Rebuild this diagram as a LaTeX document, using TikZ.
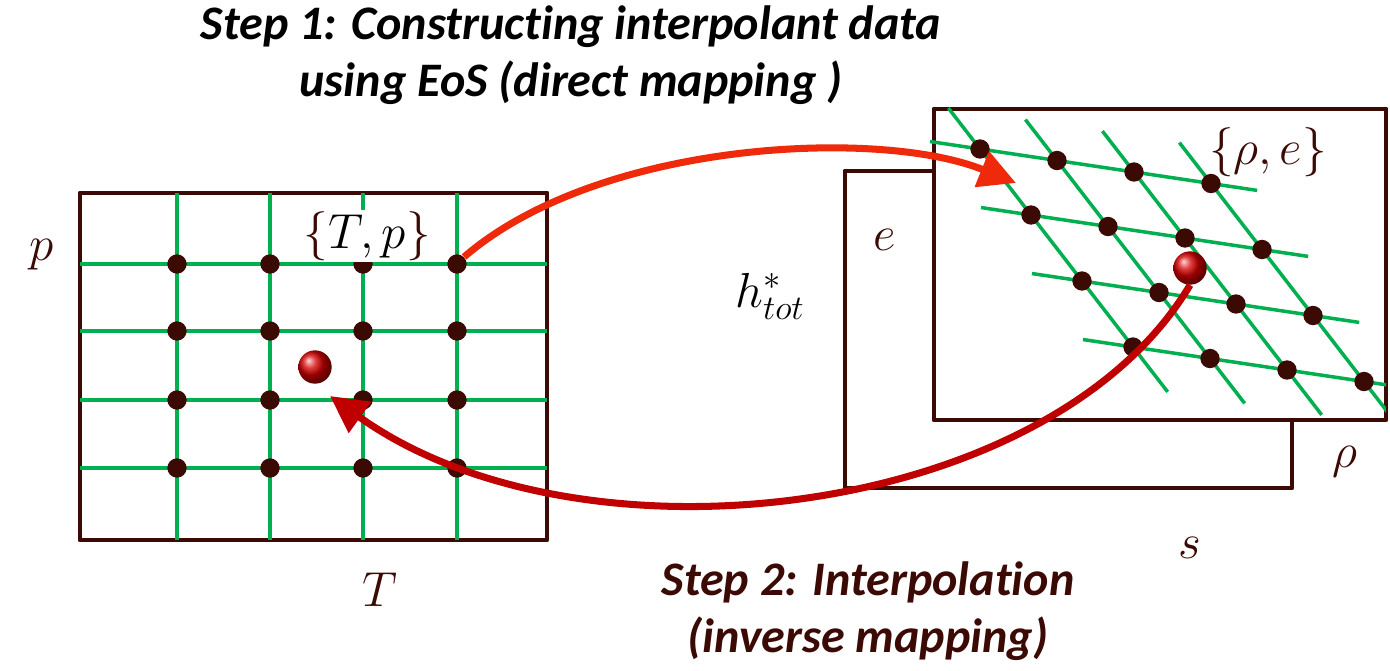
\documentclass[tikz,border=0pt]{standalone}
\usepackage{fix-cm}
\usepackage{fontspec}
\setmainfont[Ligatures=NoCommon]{Carlito}
\usetikzlibrary{arrows.meta}
\definecolor{dbrown}{HTML}{3C0A05}
\definecolor{ggreen}{HTML}{00B050}
\definecolor{tred}{HTML}{EE2A0A}
\definecolor{bred}{HTML}{C00000}
\tikzset{
  frame/.style={draw=dbrown, line width=2.8pt, line join=round},
  gline/.style={draw=ggreen, line width=2pt},
  knot/.style={circle, fill=dbrown, inner sep=0pt, minimum size=11pt},
  target/.style={circle, ball color=red!85!black, inner sep=0pt, minimum size=19pt},
  steptxt/.style={font=\fontsize{27.4}{32.5}\selectfont\bfseries\itshape, align=center},
  lbl/.style={text=dbrown, font=\fontsize{28}{32}\selectfont, inner sep=1pt},
  map/.style={line width=4pt, -{Triangle[length=21pt, width=21pt]}},
}
\begin{document}
\begin{tikzpicture}[x=0.02cm, y=-0.02cm]
    \useasboundingbox (0,0) rectangle (1390,670);
    % left plane {T,p}
    \draw[frame] (80,193) rectangle (547,540);
    \foreach \x in {177,270,363,457} \draw[gline] (\x,193) -- (\x,540);
    \foreach \y in {264,331,400,468} \draw[gline] (80,\y) -- (547,\y);
    \foreach \i/\x in {0/177,1/270,2/363,3/457}
      \foreach \j/\y in {0/264,1/331,2/400,3/468}
        \node[knot] (l\i\j) at (\x,\y) {};
    \node[lbl, fill=white] (tp) at (367,236) {$\{{\color{black}T,p}\}$};
    \node[lbl] (pax) at (42,255) {$p$};
    \node[lbl] (tax) at (380,590) {$T$};
    \node[target] (lball) at (315,367) {};
    % right planes {rho,e}
    \draw[frame] (845,171) rectangle (1292,488);
    \draw[frame, fill=white] (934,109) rectangle (1386,420);
    \begin{scope}
      \clip (0,0) rectangle (1386,670);
      \foreach \j in {0,...,3}
        \draw[gline] ({980+77*(-0.65)+51*\j},{149+11.5*(-0.65)+66*\j})
          -- ({980+77*3.6+51*\j},{149+11.5*3.6+66*\j});
      \foreach \i in {0,...,3}
        \draw[gline] ({980+77*\i+51*(-0.62)},{149+11.5*\i+66*(-0.62)})
          -- ({980+77*\i+51*3.68},{149+11.5*\i+66*3.68});
    \end{scope}
    \foreach \i in {0,...,3}
      \foreach \j in {0,...,3}
        \node[knot] (r\i\j) at ({980+77*\i+51*\j},{149+11.5*\i+66*\j}) {};
    \node[lbl] (re) at (1268,152) {$\{\rho,e\}$};
    \node[lbl] (eax) at (885,240) {$e$};
    \node[lbl] (rax) at (1345,462) {$\rho$};
    \node[lbl] (sax) at (1190,548) {$s$};
    \node[lbl, text=black] (htot) at (770,296) {$h^*_{tot}$};
    \node[target] (rball) at (1190,268) {};
    % mappings
    \coordinate (tip1) at (1016,183);
    \coordinate (tip2) at (330,396);
    \draw[map, tred] (l30.north east) .. controls (600,140) and (880,128) .. (tip1);
    \draw[map, bred] (rball.south) .. controls (1050,520) and (580,575) .. (tip2);
    \node[steptxt] (step1) at (571,55) {Step 1: Constructing interpolant data\\using EoS (direct mapping )};
    \node[steptxt, text=dbrown] (step2) at (868,611) {Step 2: Interpolation\\(inverse mapping)};
  \end{tikzpicture}
\end{document}
